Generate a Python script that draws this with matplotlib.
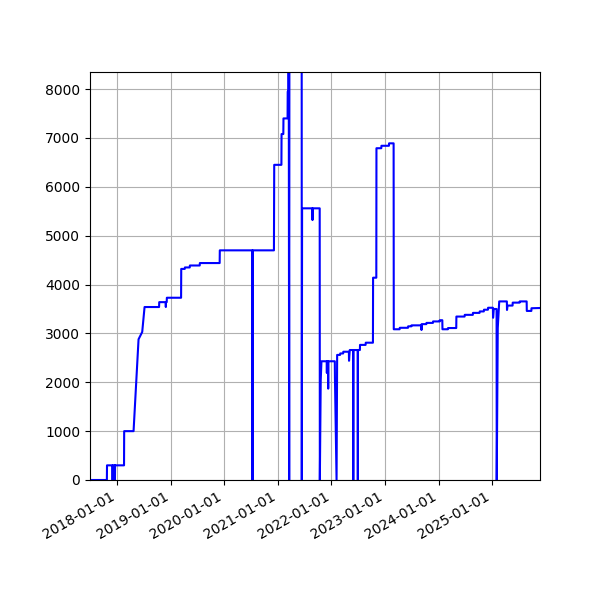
import pandas as pd
import matplotlib
matplotlib.use("Agg")
import matplotlib.pyplot as plt
import matplotlib.dates as mdates

dates = [
    "2017-06-30", "2017-10-23", "2017-10-24", "2017-11-30", "2017-12-01", "2017-12-02",
    "2017-12-16", "2017-12-17", "2017-12-18", "2018-02-17", "2018-02-18", "2018-04-23",
    "2018-05-27", "2018-06-21", "2018-07-07", "2018-10-14", "2018-10-15", "2018-11-28",
    "2018-11-29", "2018-11-30", "2018-12-05", "2018-12-06", "2019-03-13", "2019-03-14",
    "2019-04-07", "2019-04-08", "2019-05-11", "2019-05-12", "2019-07-18", "2019-07-19",
    "2019-12-01", "2019-12-02", "2020-07-11", "2020-07-12", "2020-07-13", "2020-12-05",
    "2020-12-06", "2020-12-07", "2021-01-25", "2021-01-26", "2021-02-07", "2021-02-08",
    "2021-03-08", "2021-03-09", "2021-03-14", "2021-03-15", "2021-03-19", "2021-03-21",
    "2021-06-12", "2021-06-13", "2021-06-15", "2021-08-24", "2021-08-25", "2021-08-26",
    "2021-10-13", "2021-10-14", "2021-10-20", "2021-10-25", "2021-11-30", "2021-12-01",
    "2021-12-02", "2021-12-09", "2021-12-10", "2021-12-11", "2022-01-24", "2022-01-25",
    "2022-02-05", "2022-02-09", "2022-03-01", "2022-03-02", "2022-03-22", "2022-03-23",
    "2022-04-30", "2022-05-01", "2022-05-06", "2022-05-29", "2022-05-30", "2022-05-31",
    "2022-06-29", "2022-06-30", "2022-07-01", "2022-07-14", "2022-07-15", "2022-08-22",
    "2022-08-23", "2022-10-11", "2022-10-12", "2022-11-03", "2022-11-04", "2022-12-07",
    "2022-12-08", "2023-01-28", "2023-01-29", "2023-03-01", "2023-03-02", "2023-04-11",
    "2023-04-12", "2023-06-07", "2023-06-08", "2023-06-30", "2023-07-01", "2023-09-06",
    "2023-09-07", "2023-09-08", "2023-10-10", "2023-10-11", "2023-11-24", "2023-11-25",
    "2024-01-09", "2024-01-10", "2024-01-27", "2024-01-28", "2024-03-05", "2024-03-06",
    "2024-05-01", "2024-05-02", "2024-06-27", "2024-06-28", "2024-08-22", "2024-08-23",
    "2024-10-07", "2024-10-08", "2024-11-05", "2024-11-06", "2024-12-03", "2024-12-04",
    "2025-01-06", "2025-01-07", "2025-01-12", "2025-01-31", "2025-02-01", "2025-02-08",
    "2025-02-18", "2025-04-11", "2025-04-12", "2025-04-16", "2025-05-20", "2025-05-21",
    "2025-07-07", "2025-07-08", "2025-08-24", "2025-08-25", "2025-09-25", "2025-09-26",
    "2025-11-23",
]
values = [
    0, 0, 300, 300, 0, 300,
    300, 0, 300, 300, 1000, 1000,
    2880, 3030, 3540, 3540, 3640, 3640,
    3540, 3640, 3640, 3730, 3730, 4320,
    4320, 4350, 4350, 4390, 4390, 4440,
    4440, 4700, 4700, 0, 4700, 4700,
    6000, 6450, 6450, 7080, 7080, 7400,
    7400, 7950, 7950, 12000, 0, 12000,
    12000, 0, 5560, 5560, 5320, 5560,
    5560, 0, 2040, 2430, 2430, 2190,
    2430, 2430, 1870, 2430, 2430, 2080,
    0, 2560, 2560, 2590, 2590, 2625,
    2625, 2440, 2660, 2660, 0, 2660,
    2660, 0, 2660, 2660, 2765, 2765,
    2810, 2810, 4140, 4140, 6790, 6790,
    6840, 6840, 6890, 6890, 3085, 3085,
    3115, 3115, 3145, 3145, 3165, 3165,
    3070, 3190, 3190, 3215, 3215, 3245,
    3245, 3270, 3270, 3085, 3085, 3110,
    3110, 3345, 3345, 3380, 3380, 3420,
    3420, 3450, 3450, 3485, 3485, 3525,
    3525, 3320, 3500, 3500, 0, 3110,
    3655, 3655, 3480, 3570, 3570, 3630,
    3630, 3655, 3655, 3460, 3460, 3515,
    3520,
]

x = pd.to_datetime(dates)

fig, ax = plt.subplots(figsize=(6, 6), dpi=100)
ax.plot(x, values, color="blue", linewidth=1.5)
ax.grid(True)
ax.set_ylim(0, 8350)
ax.set_xlim(pd.Timestamp("2017-06-30"), pd.Timestamp("2025-11-23"))
ax.xaxis.set_major_locator(mdates.YearLocator())
ax.xaxis.set_major_formatter(mdates.DateFormatter("%Y-%m-%d"))
fig.autofmt_xdate()
fig.subplots_adjust(left=0.15, bottom=0.2, right=0.9, top=0.88)
fig.savefig("out.png")
